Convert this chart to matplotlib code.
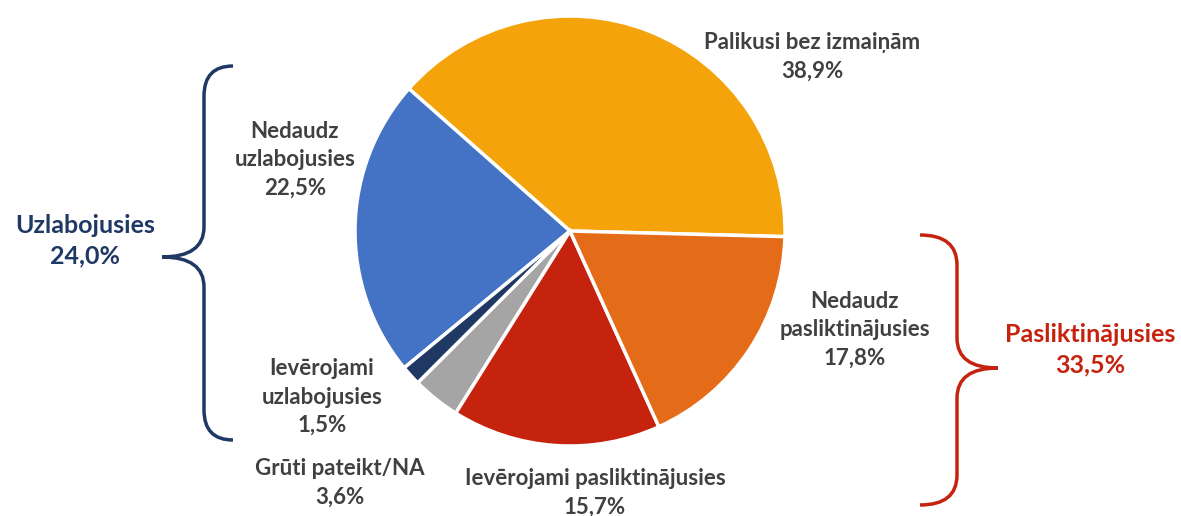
import numpy as np
import matplotlib.pyplot as plt
from matplotlib.path import Path
from matplotlib.patches import PathPatch

plt.rcParams['font.family'] = ['Lato', 'DejaVu Sans']

categories = ['Palikusi bez izmaiņām', 'Nedaudz\nuzlabojusies', 'Ievērojami\nuzlabojusies',
              'Grūti pateikt/NA', 'Ievērojami pasliktinājusies', 'Nedaudz\npasliktinājusies']
values = [38.9, 22.5, 1.5, 3.6, 15.7, 17.8]
colors = ['#F5A30B', '#4472C4', '#203864', '#A5A5A5', '#C5230E', '#E46C18']
group_names = ['Uzlabojusies', 'Pasliktinājusies']
group_values = [24.0, 33.5]
group_colors = ['#203864', '#C5230E']

W, H = 1181, 516
fig = plt.figure(figsize=(W / 100, H / 100), dpi=100)
ax = fig.add_axes([0, 0, 1, 1])


def py(y):
    # pixel row -> data y
    return H - y


cx, cy, r = 570, 231, 215
ax.pie(values, colors=colors, startangle=-1.5, counterclock=True,
       center=(cx, py(cy)), radius=r, frame=True,
       wedgeprops=dict(edgecolor='white', linewidth=2.5))
ax.set_xlim(0, W)
ax.set_ylim(0, H)
ax.set_aspect('equal')
ax.axis('off')


def fmt(v):
    return f'{v:.1f}%'.replace('.', ',')


label_pos = [(812, 57), (295, 160), (322, 397), (340, 483), (595, 493), (855, 330)]
for name, v, (x, y) in zip(categories, values, label_pos):
    ax.text(x, py(y), f'{name}\n{fmt(v)}', ha='center', va='center',
            fontsize=16, fontweight='bold', color='#404040', linespacing=1.45)

group_pos = [(85, 241), (1090, 350)]
for name, v, c, (x, y) in zip(group_names, group_values, group_colors, group_pos):
    ax.text(x, py(y), f'{name}\n{fmt(v)}', ha='center', va='center',
            fontsize=18, fontweight='bold', color=c, linespacing=1.4)


def brace(x_end, x_mid, x_tip, y_top, y_tip, y_bot, color, rr=30):
    verts = [
        (x_end, py(y_top)), (x_mid, py(y_top)), (x_mid, py(y_top + rr)),
        (x_mid, py(y_tip - rr)), (x_mid, py(y_tip)), (x_tip, py(y_tip)),
        (x_tip, py(y_tip)), (x_mid, py(y_tip)), (x_mid, py(y_tip + rr)),
        (x_mid, py(y_bot - rr)), (x_mid, py(y_bot)), (x_end, py(y_bot)),
    ]
    codes = [Path.MOVETO, Path.CURVE3, Path.CURVE3,
             Path.LINETO, Path.CURVE3, Path.CURVE3,
             Path.MOVETO, Path.CURVE3, Path.CURVE3,
             Path.LINETO, Path.CURVE3, Path.CURVE3]
    ax.add_patch(PathPatch(Path(verts, codes), fill=False, edgecolor=color,
                           lw=2.5, capstyle='butt'))


brace(233, 204, 162, 66, 257, 440, group_colors[0])
brace(920, 957, 998, 235, 368, 505, group_colors[1])

fig.savefig('out.png', dpi=100)
